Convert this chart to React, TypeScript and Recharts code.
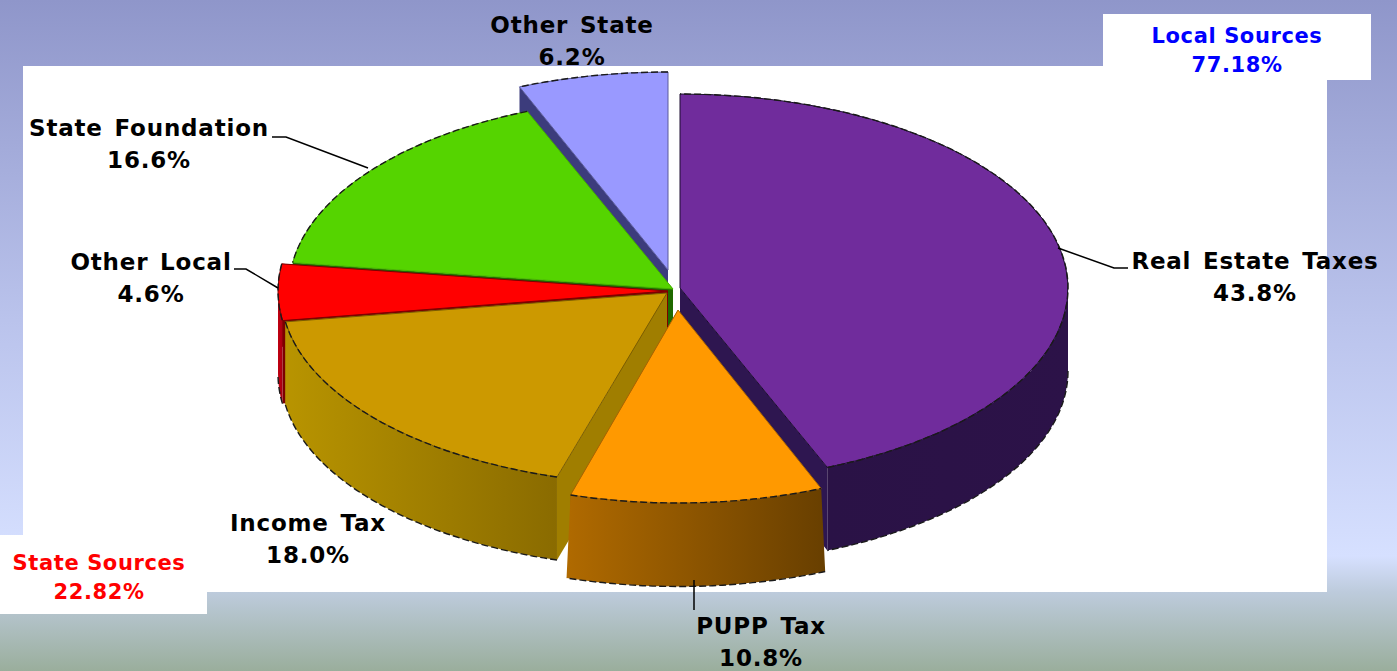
import React from 'react';
import { PieChart, Pie } from 'recharts';

const WIDTH = 1397;
const HEIGHT = 671;
const FONT = '"DejaVu Sans", Verdana, sans-serif';

// Revenue shares, listed counter-clockwise from 12 o'clock so back slices paint first
const categories = ['Other State', 'State Foundation', 'Other Local', 'Income Tax', 'PUPP Tax', 'Real Estate Taxes'];
const shares = [6.2, 16.6, 4.6, 18.0, 10.8, 43.8];

const summaryNames = ['Local Sources', 'State Sources'];
const summaryShares = ['77.18%', '22.82%'];

const chartData = categories.map((name, i) => ({ name, value: shares[i] }));

const PIE_CX = 672;
const PIE_CY = 290;
const PIE_RADIUS = 388;
const DEPTH = 83;

// How far each slice is pulled out of the pie, plus a small per-slice size tweak for the tilted view
const explode: Record<string, { dx: number; dy: number; rx: number; ry: number; flare?: number }> = {
  'Other State': { dx: -4, dy: -20, rx: 391, ry: 198 },
  'State Foundation': { dx: 1, dy: -1, rx: 384, ry: 192 },
  'Other Local': { dx: -4, dy: 1, rx: 390, ry: 197 },
  'Income Tax': { dx: -5, dy: 3, rx: 386, ry: 192 },
  'PUPP Tax': { dx: 6, dy: 20, rx: 377, ry: 193, flare: 4 },
  'Real Estate Taxes': { dx: 8, dy: -2, rx: 388, ry: 194 },
};

const palette: Record<string, { top: string; edge: string; cut: string; wall: [string, string] }> = {
  'Other State': { top: '#9999ff', edge: '#5a5a9c', cut: '#3c3c7c', wall: ['#3c3c7c', '#3c3c7c'] },
  'State Foundation': { top: '#55d400', edge: '#48b400', cut: '#1f6a00', wall: ['#2f7f00', '#2f7f00'] },
  'Other Local': { top: '#ff0000', edge: '#7c0000', cut: '#7c0000', wall: ['#c00010', '#a80010'] },
  'Income Tax': { top: '#cc9900', edge: '#7a5c00', cut: '#a07e00', wall: ['#b89400', '#8a6b00'] },
  'PUPP Tax': { top: '#ff9900', edge: '#a86400', cut: '#8f5c00', wall: ['#b06a00', '#683f00'] },
  'Real Estate Taxes': { top: '#702c9c', edge: '#1c0c30', cut: '#2e1650', wall: ['#2a1246', '#2c1248'] },
};

const labelSpots: Record<string, { x: number; y: number; leader?: string }> = {
  'Other State': { x: 572, y: 33 },
  'State Foundation': { x: 149, y: 136, leader: '272,137 286,137 368,168' },
  'Other Local': { x: 151, y: 270, leader: '234,269 246,269 278,288' },
  'Income Tax': { x: 308, y: 531 },
  'PUPP Tax': { x: 761, y: 634, leader: '694,580 694,610' },
  'Real Estate Taxes': { x: 1255, y: 269, leader: '1058,248 1114,268 1128,268' },
};

const RAD = Math.PI / 180;

type Layer = 'cut' | 'outer' | 'top';

// Draws one layer of a slice as a squashed ellipse wedge, from the angles the Pie worked out
const sliceLayer = (layer: Layer) => (props: any) => {
  const { name, startAngle, endAngle, cx, cy } = props;
  const e = explode[name];
  const colors = palette[name];
  const x0 = cx + e.dx;
  const y0 = cy + e.dy;
  const at = (deg: number) => [x0 + e.rx * Math.cos(deg * RAD), y0 - e.ry * Math.sin(deg * RAD)];
  const lo = Math.min(startAngle, endAngle);
  const hi = Math.max(startAngle, endAngle);
  const [ax, ay] = at(lo);
  const [bx, by] = at(hi);

  if (layer === 'cut') {
    const wall = (px: number, py: number) =>
      `M${x0},${y0}L${px},${py}L${px},${py + DEPTH}L${x0},${y0 + DEPTH}Z`;
    return (
      <g>
        <path d={wall(ax, ay)} fill={colors.cut} />
        <path d={wall(bx, by)} fill={colors.cut} />
      </g>
    );
  }

  if (layer === 'outer') {
    // only the front half of the rim can be seen
    const from = Math.max(lo, 180);
    const to = Math.min(hi, 360);
    if (to <= from) return <g />;
    const [fx, fy] = at(from);
    const [tx, ty] = at(to);
    const large = to - from > 180 ? 1 : 0;
    const id = `rim-${categories.indexOf(name)}`;
    const flare = e.flare ?? 0;
    const bottom = `${e.rx + flare},${e.ry} 0 ${large} 1 ${fx - flare},${fy + DEPTH}`;
    return (
      <g>
        <defs>
          <linearGradient id={id} x1="0" y1="0" x2="1" y2="0">
            <stop offset="0" stopColor={colors.wall[0]} />
            <stop offset="1" stopColor={colors.wall[1]} />
          </linearGradient>
        </defs>
        <path
          d={`M${fx},${fy}A${e.rx},${e.ry} 0 ${large} 0 ${tx},${ty}L${tx + flare},${ty + DEPTH}A${bottom}Z`}
          fill={`url(#${id})`}
        />
        <path
          d={`M${tx + flare},${ty + DEPTH}A${bottom}`}
          fill="none"
          stroke="#1a1a1a"
          strokeWidth={1.4}
          strokeDasharray="7 3"
        />
      </g>
    );
  }

  const large = hi - lo > 180 ? 1 : 0;
  return (
    <g>
      <path
        d={`M${x0},${y0}L${ax},${ay}A${e.rx},${e.ry} 0 ${large} 0 ${bx},${by}Z`}
        fill={colors.top}
        stroke={colors.edge}
        strokeWidth={1}
      />
      <path
        d={`M${ax},${ay}A${e.rx},${e.ry} 0 ${large} 0 ${bx},${by}`}
        fill="none"
        stroke="#1a1a1a"
        strokeWidth={1.4}
        strokeDasharray="7 3"
      />
    </g>
  );
};

const textStyle = { letterSpacing: 0.8, wordSpacing: 3 };

const renderLabel = (props: any) => {
  const { name, value } = props;
  const spot = labelSpots[name];
  return (
    <g key={name}>
      {spot.leader && <polyline points={spot.leader} fill="none" stroke="#000" strokeWidth={1.5} />}
      <g fontFamily={FONT} fontWeight={700} fontSize={23} fill="#000" textAnchor="middle" style={textStyle}>
        <text x={spot.x} y={spot.y}>{name}</text>
        <text x={spot.x} y={spot.y + 32}>{`${value.toFixed(1)}%`}</text>
      </g>
    </g>
  );
};

const Panel = ({ left, top, width, height }: { left: number; top: number; width: number; height: number }) => (
  <div style={{ position: 'absolute', left, top, width, height, background: '#fff' }} />
);

const Summary = ({ index, x, y, color }: { index: number; x: number; y: number; color: string }) => (
  <g fontFamily={FONT} fontWeight={700} fontSize={21} fill={color} textAnchor="middle" style={{ letterSpacing: 0.6 }}>
    <text x={x} y={y}>{summaryNames[index]}</text>
    <text x={x} y={y + 29}>{summaryShares[index]}</text>
  </g>
);

export default function App() {
  return (
    <div
      style={{
        position: 'absolute',
        left: 0,
        top: 0,
        width: WIDTH,
        height: HEIGHT,
        overflow: 'hidden',
        background:
          'linear-gradient(to bottom, #8f96ca 0px, #bac3ec 320px, #d6e0ff 556px, #bdcbdc 592px, #9aae9c 671px)',
      }}
    >
      <Panel left={23} top={66} width={1304} height={526} />
      <Panel left={1103} top={14} width={268} height={66} />
      <Panel left={0} top={535} width={207} height={79} />
      <svg width={WIDTH} height={HEIGHT} style={{ position: 'absolute', left: 0, top: 0 }}>
        <Summary index={0} x={1237} y={43} color="#0000ff" />
        <Summary index={1} x={99} y={570} color="#ff0000" />
      </svg>
      <div style={{ position: 'absolute', left: 0, top: 0 }}>
        <PieChart width={WIDTH} height={HEIGHT} margin={{ top: 0, right: 0, bottom: 0, left: 0 }}>
          <Pie
            data={chartData}
            dataKey="value"
            nameKey="name"
            cx={PIE_CX}
            cy={PIE_CY}
            outerRadius={PIE_RADIUS}
            startAngle={90}
            endAngle={450}
            stroke="none"
            shape={sliceLayer('cut')}
            isAnimationActive={false}
          />
          <Pie
            data={chartData}
            dataKey="value"
            nameKey="name"
            cx={PIE_CX}
            cy={PIE_CY}
            outerRadius={PIE_RADIUS}
            startAngle={90}
            endAngle={450}
            stroke="none"
            shape={sliceLayer('outer')}
            isAnimationActive={false}
          />
          <Pie
            data={chartData}
            dataKey="value"
            nameKey="name"
            cx={PIE_CX}
            cy={PIE_CY}
            outerRadius={PIE_RADIUS}
            startAngle={90}
            endAngle={450}
            stroke="none"
            shape={sliceLayer('top')}
            label={renderLabel}
            labelLine={false}
            isAnimationActive={false}
          />
        </PieChart>
      </div>
    </div>
  );
}
